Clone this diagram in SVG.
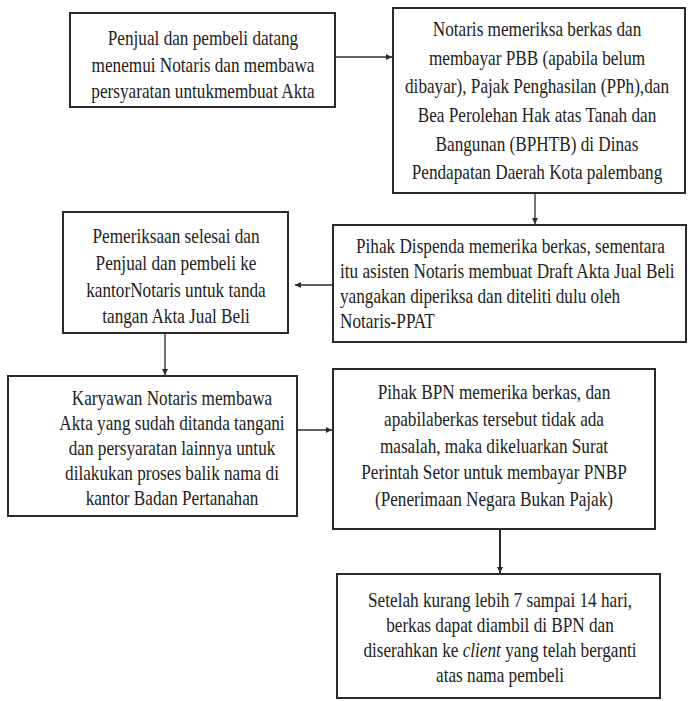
<svg xmlns="http://www.w3.org/2000/svg" width="690" height="701" viewBox="0 0 690 701">
<style>
.box{fill:#fff;stroke:#2a2a2a;stroke-width:2}
.t{font-family:"Liberation Serif","Times New Roman",serif;font-size:17.2px;fill:#222}
.c{text-anchor:middle}
.l{text-anchor:start}
.con{fill:none;stroke:#2a2a2a;stroke-width:1.3}
.thick{stroke-width:2}
</style>
<defs>
<marker id="ah" markerWidth="7" markerHeight="7" refX="6" refY="3.5" orient="auto" markerUnits="userSpaceOnUse">
<path d="M0,0.5 L6,3.5 L0,6.5 Z" fill="#2a2a2a"/>
</marker>
</defs>
<rect width="690" height="701" fill="#fff"/>
<g id="connectors">
<line class="con" x1="335" y1="57" x2="392" y2="57" marker-end="url(#ah)"/>
<line class="con" x1="535" y1="193" x2="535" y2="224" marker-end="url(#ah)"/>
<line class="con" x1="333" y1="285" x2="295" y2="285" marker-end="url(#ah)"/>
<line class="con" x1="165" y1="333" x2="165" y2="375" marker-end="url(#ah)"/>
<line class="con" x1="297" y1="430" x2="332" y2="430" marker-end="url(#ah)"/>
<line class="con thick" x1="500" y1="529" x2="500" y2="573" marker-end="url(#ah)"/>
</g>
<g id="n1">
<rect class="box" x="70" y="13" width="265" height="94"/>
<text class="t c" transform="translate(203,45) scale(1,1.18)">Penjual dan pembeli datang</text>
<text class="t c" transform="translate(203,72) scale(1,1.18)">menemui Notaris dan membawa</text>
<text class="t c" transform="translate(203,98) scale(1,1.18)">persyaratan untukmembuat Akta</text>
</g>
<g id="n2">
<rect class="box" x="393" y="8" width="292" height="185"/>
<text class="t c" transform="translate(537,36) scale(1,1.18)">Notaris memeriksa berkas dan</text>
<text class="t c" transform="translate(537,64.5) scale(1,1.18)">membayar PBB (apabila belum</text>
<text class="t c" transform="translate(537,93) scale(1,1.18)">dibayar), Pajak Penghasilan (PPh),dan</text>
<text class="t c" transform="translate(537,122) scale(1,1.18)">Bea Perolehan Hak atas Tanah dan</text>
<text class="t c" transform="translate(537,150.5) scale(1,1.18)">Bangunan (BPHTB) di Dinas</text>
<text class="t c" transform="translate(537,179) scale(1,1.18)">Pendapatan Daerah Kota palembang</text>
</g>
<g id="n3">
<rect class="box" x="333" y="225" width="353" height="117"/>
<text class="t l" transform="translate(356,253) scale(1,1.18)">Pihak Dispenda memerika berkas, sementara</text>
<text class="t l" transform="translate(340,278) scale(1,1.18)">itu asisten Notaris membuat Draft Akta Jual Beli</text>
<text class="t l" transform="translate(340,303) scale(1,1.18)">yangakan diperiksa dan diteliti dulu oleh</text>
<text class="t l" transform="translate(340,328) scale(1,1.18)">Notaris-PPAT</text>
</g>
<g id="n4">
<rect class="box" x="63" y="212" width="225" height="121"/>
<text class="t c" transform="translate(176,243) scale(1,1.18)">Pemeriksaan selesai dan</text>
<text class="t c" transform="translate(176,270) scale(1,1.18)">Penjual dan pembeli ke</text>
<text class="t c" transform="translate(176,297) scale(1,1.18)">kantorNotaris untuk tanda</text>
<text class="t c" transform="translate(176,323) scale(1,1.18)">tangan Akta Jual Beli</text>
</g>
<g id="n5">
<rect class="box" x="8" y="376" width="289" height="140"/>
<text class="t c" transform="translate(172,405) scale(1,1.18)">Karyawan Notaris membawa</text>
<text class="t c" transform="translate(172,430) scale(1,1.18)">Akta yang sudah ditanda tangani</text>
<text class="t c" transform="translate(172,455) scale(1,1.18)">dan persyaratan lainnya untuk</text>
<text class="t c" transform="translate(172,480) scale(1,1.18)">dilakukan proses balik nama di</text>
<text class="t c" transform="translate(172,505) scale(1,1.18)">kantor Badan Pertanahan</text>
</g>
<g id="n6">
<rect class="box" x="333" y="369" width="322" height="160"/>
<text class="t c" transform="translate(494,399) scale(1,1.18)">Pihak BPN memerika berkas, dan</text>
<text class="t c" transform="translate(494,426) scale(1,1.18)">apabilaberkas tersebut tidak ada</text>
<text class="t c" transform="translate(494,453) scale(1,1.18)">masalah, maka dikeluarkan Surat</text>
<text class="t c" transform="translate(494,479) scale(1,1.18)">Perintah Setor untuk membayar PNBP</text>
<text class="t c" transform="translate(494,506) scale(1,1.18)">(Penerimaan Negara Bukan Pajak)</text>
</g>
<g id="n7">
<rect class="box" x="337" y="574" width="323" height="124"/>
<text class="t c" transform="translate(500,607) scale(1,1.18)">Setelah kurang lebih 7 sampai 14 hari,</text>
<text class="t c" transform="translate(500,632) scale(1,1.18)">berkas dapat diambil di BPN dan</text>
<text class="t c" transform="translate(500,657) scale(1,1.18)">diserahkan ke <tspan font-style="italic">client</tspan> yang telah berganti</text>
<text class="t c" transform="translate(500,682) scale(1,1.18)">atas nama pembeli</text>
</g>
</svg>
